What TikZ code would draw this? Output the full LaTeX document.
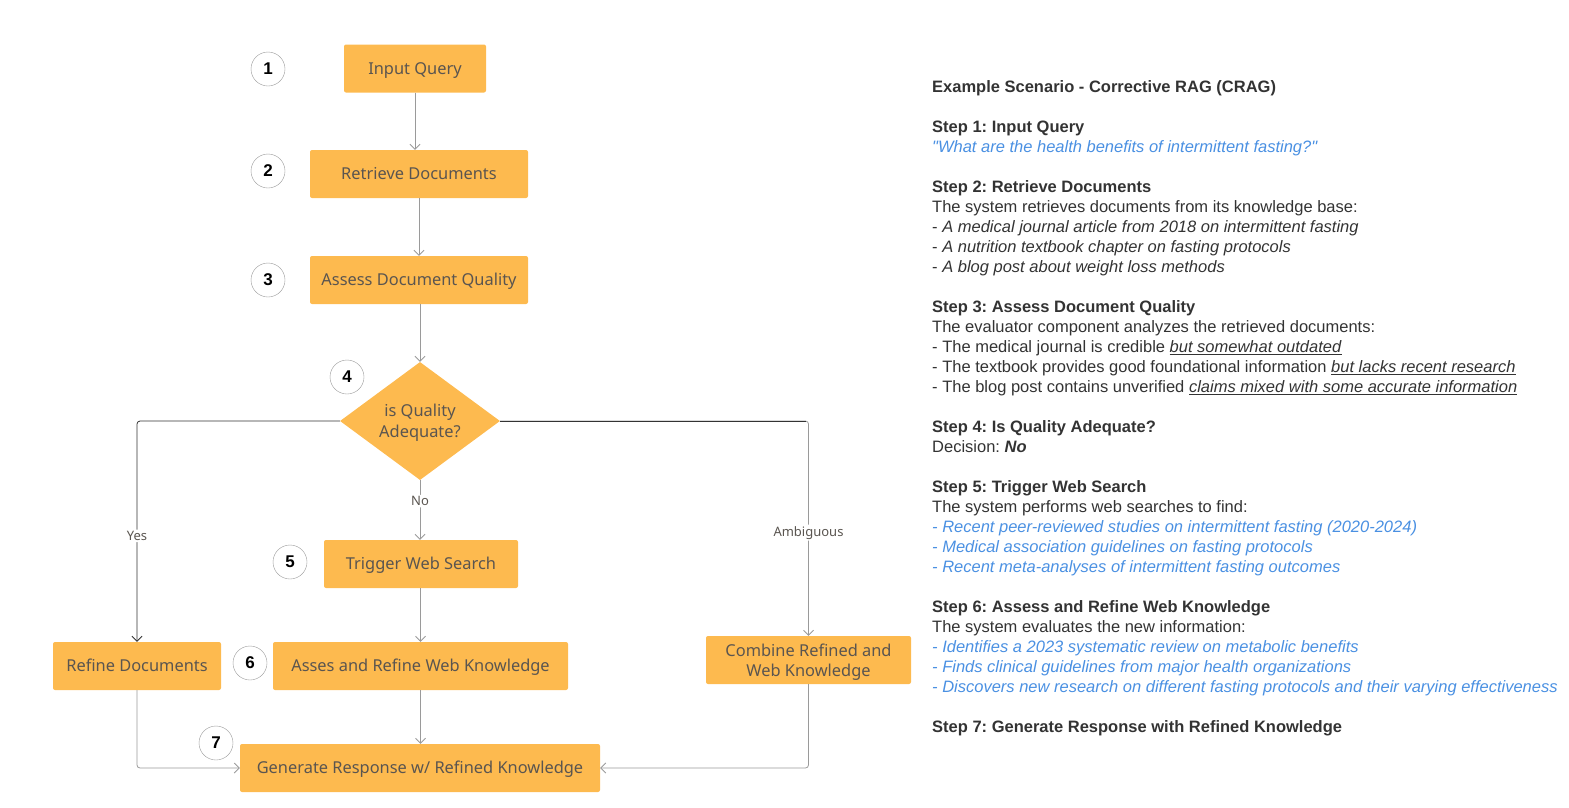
\documentclass[tikz,border=0pt]{standalone}
\usepackage{fontspec}
\setmainfont{Liberation Sans}
\newfontfamily\qfont{Liberation Sans}
\newfontfamily\boxfont{Noto Sans}
\usetikzlibrary{arrows.meta,shapes.geometric}
\definecolor{boxc}{HTML}{FDBA4F}
\definecolor{boxtext}{HTML}{5A5550}
\definecolor{gline}{HTML}{9A9A9A}
\definecolor{dline}{HTML}{333333}
\definecolor{txtc}{HTML}{333333}
\definecolor{bluec}{HTML}{4A90E2}
\newcommand{\strq}{{\qfont\itshape"}}
\frenchspacing
\begin{document}
\begin{tikzpicture}[x=1pt,y=-1pt,
  box/.style={fill=boxc, rounded corners=2pt, text=boxtext, font=\boxfont\fontsize{16.4}{20}\selectfont, inner sep=0pt, minimum height=48pt, align=center, text height=13.5pt, text depth=1.7pt},
  twobox/.style={box, text height=34pt, text depth=1.7pt},
  decbox/.style={diamond, fill=boxc, text=boxtext, font=\boxfont\fontsize{16.4}{21}\selectfont, inner sep=0pt, minimum width=160pt, minimum height=118pt, align=center, text height=34.8pt, text depth=1.7pt},
  numc/.style={circle, draw=gline, fill=white, minimum size=34pt, inner sep=0pt, font=\bfseries\fontsize{17}{17}\selectfont, text=black},
  conn/.style={draw=gline, line width=0.8pt, rounded corners=3pt, -{Straight Barb[length=5pt,width=10pt,line width=0.8pt]}},
  dconn/.style={draw=dline, line width=0.9pt, rounded corners=3pt},
  lbl/.style={fill=white, text=boxtext, font=\boxfont\fontsize{13}{15}\selectfont, inner sep=1.5pt},
  txt/.style={anchor=base west, inner sep=0pt, text=txtc, font=\fontsize{16.5}{20}\selectfont},
  btxt/.style={txt, font=\bfseries\fontsize{16.5}{20}\selectfont},
  bl/.style={txt, text=bluec, font=\itshape\fontsize{16.5}{20}\selectfont},
]
\useasboundingbox (0,0) rectangle (1569,807);

% boxes
\node[box, minimum width=142pt] (iq) at (415,68.5) {Input Query};
\node[box, minimum width=218pt] (rd) at (419,174) {Retrieve Documents};
\node[box, minimum width=218pt] (aq) at (419,280) {Assess Document Quality};
\node[decbox] (dec) at (420,421) {is Quality\\Adequate?};
\node[box, minimum width=194pt] (tw) at (421,564) {Trigger Web Search};
\node[box, minimum width=168pt] (rf) at (137,666) {Refine Documents};
\node[box, minimum width=295pt] (ar) at (420.5,666) {Asses and Refine Web Knowledge};
\node[twobox, minimum width=205pt] (cb) at (808.5,660) {Combine Refined and\\Web Knowledge};
\node[box, minimum width=360pt] (gr) at (420,768) {Generate Response w/ Refined Knowledge};

% number circles
\node[numc] (n1) at (268,69) {1};
\node[numc] (n2) at (268,171) {2};
\node[numc] (n3) at (268,280) {3};
\node[numc] (n4) at (347,377) {4};
\node[numc] (n5) at (290,562) {5};
\node[numc] (n6) at (250,663) {6};
\node[numc] (n7) at (216,743) {7};

% connectors
\draw[conn] (iq.south) -- (iq.south |- rd.north);
\draw[conn] (rd.south) -- (rd.south |- aq.north);
\draw[conn] (aq.south -| dec.north) -- (dec.north);
\draw[conn] (dec.south) -- node[lbl, pos=0.35] {No} (dec.south |- tw.north);
\draw[conn, draw=dline] (dec.west) -| node[lbl, pos=0.76] {Yes} (rf.north);
\draw[conn] (dec.east) -| node[lbl, pos=0.76] {Ambiguous} (cb.north);
\draw[dconn] (dec.east) -- ([xshift=-3pt]cb.north |- dec.east);
\draw[conn] (tw.south -| ar.north) -- (ar.north);
\draw[conn] (ar.south) -- (ar.south |- gr.north);
\draw[conn] (rf.south) |- (gr.west);
\draw[conn] (cb.south) |- (gr.east);

% right-hand text
\node[btxt] (t0) at (932,92.5) {Example Scenario - Corrective RAG (CRAG)};
\node[btxt] (t1) at (932,132.5) {Step 1: Input Query};
\node[bl] (t2) at (932,152.5) {\strq What are the health benefits of intermittent fasting?\strq};
\node[btxt] (t3) at (932,192.5) {Step 2: Retrieve Documents};
\node[txt] (t4) at (932,212.5) {The system retrieves documents from its knowledge base:};
\node[txt] (t5) at (932,232.5) {- \textit{A medical journal article from 2018 on intermittent fasting}};
\node[txt] (t6) at (932,252.5) {- \textit{A nutrition textbook chapter on fasting protocols}};
\node[txt] (t7) at (932,272.5) {- \textit{A blog post about weight loss methods}};
\node[btxt] (t8) at (932,312.5) {Step 3: Assess Document Quality};
\node[txt] (t9) at (932,332.5) {The evaluator component analyzes the retrieved documents:};
\node[txt] (t10) at (932,352.5) {- The medical journal is credible \underline{\textit{but somewhat outdated}}};
\node[txt] (t11) at (932,372.5) {- The textbook provides good foundational information \underline{\textit{but lacks recent research}}};
\node[txt] (t12) at (932,392.5) {- The blog post contains unverified \underline{\textit{claims mixed with some accurate information}}};
\node[btxt] (t13) at (932,432.5) {Step 4: Is Quality Adequate?};
\node[txt] (t14) at (932,452.5) {Decision: \textbf{\textit{No}}};
\node[btxt] (t15) at (932,492.5) {Step 5: Trigger Web Search};
\node[txt] (t16) at (932,512.5) {The system performs web searches to find:};
\node[bl] (t17) at (932,532.5) {- Recent peer-reviewed studies on intermittent fasting (2020-2024)};
\node[bl] (t18) at (932,552.5) {- Medical association guidelines on fasting protocols};
\node[bl] (t19) at (932,572.5) {- Recent meta-analyses of intermittent fasting outcomes};
\node[btxt] (t20) at (932,612.5) {Step 6: Assess and Refine Web Knowledge};
\node[txt] (t21) at (932,632.5) {The system evaluates the new information:};
\node[bl] (t22) at (932,652.5) {- Identifies a 2023 systematic review on metabolic benefits};
\node[bl] (t23) at (932,672.5) {- Finds clinical guidelines from major health organizations};
\node[bl] (t24) at (932,692.5) {- Discovers new research on different fasting protocols and their varying effectiveness};
\node[btxt] (t25) at (932,732.5) {Step 7: Generate Response with Refined Knowledge};
\end{tikzpicture}
\end{document}
